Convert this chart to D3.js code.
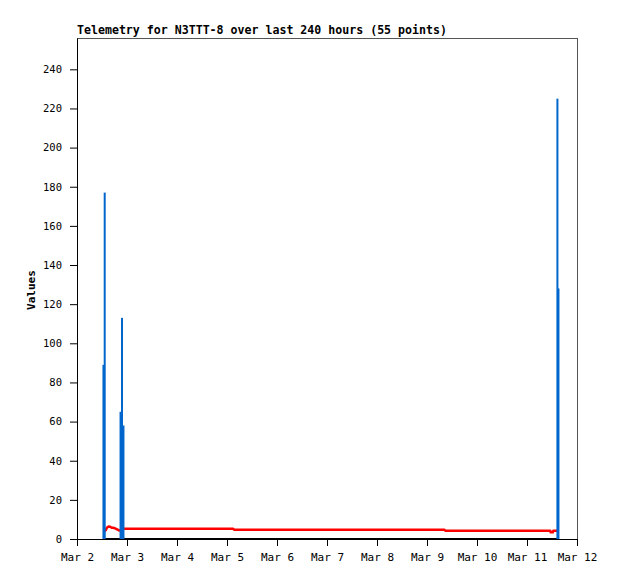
<!DOCTYPE html>
<html>
<head>
<meta charset="utf-8">
<script src="https://cdn.jsdelivr.net/npm/d3@7"></script>
<style>
  html, body { margin: 0; padding: 0; background: #fff; }
  svg { display: block; }
  text { font-family: "DejaVu Sans Mono", "Liberation Mono", monospace; }
</style>
</head>
<body>
<svg id="chart" width="618" height="579"></svg>
<script>
// ---- data (hours after Mar 2 00:00) ----
const startDate = "2024-03-02T00:00:00Z";
const spanHours = 240;
const hours = [
  12.7, 13.3, 13.8, 14.3, 14.8, 15.3, 15.8, 16.3, 16.8, 17.3,
  17.8, 18.3, 18.8, 19.3, 19.8, 20.2, 20.9, 21.6, 22.3, 23.0,
  30, 42, 54, 66, 75.0, 75.4, 88, 100, 112, 124,
  136, 148, 160, 176.4, 176.8, 188, 200, 212, 222, 227.2,
  227.4, 228.4, 228.6,
  229.0, 229.2, 229.4, 229.6, 229.8, 230.0, 230.2, 230.4, 230.6, 230.8, 230.95, 231.1
];
const redValues = [
  3.6, 4.0, 4.5, 5.6, 6.2, 6.4, 6.3, 6.0, 5.7, 5.8,
  5.6, 5.4, 5.1, 4.9, 4.6, 4.4, 4.3, 4.8, 5.2, 5.2,
  5.2, 5.2, 5.2, 5.2, 5.2, 4.7, 4.7, 4.7, 4.7, 4.7,
  4.7, 4.7, 4.7, 4.7, 4.2, 4.2, 4.2, 4.2, 4.2, 4.2,
  3.4, 3.4, 4.2,
  4.2, 4.2, 4.2, 4.2, 4.2, 4.2, 4.2, 4.2, 4.2, 4.2, 4.2, 4.2
];
const blueValues = [
  89, 177, 0, 0, 0, 0, 0, 0, 0, 0,
  0, 0, 0, 0, 0, 0, 65, 113, 58, 0,
  0, 0, 0, 0, 0, 0, 0, 0, 0, 0,
  0, 0, 0, 0, 0, 0, 0, 0, 0, 0,
  0, 0, 0,
  0, 0, 0, 0, 0, 0, 0, 0, 225, 0, 0, 128
];
const blackValues = hours.map(() => 0);
const yTicks = [0, 20, 40, 60, 80, 100, 120, 140, 160, 180, 200, 220, 240];
const titleText = "Telemetry for N3TTT-8 over last 240 hours (55 points)";
const yLabel = "Values";

// ---- layout ----
const svg = d3.select("#chart");
const mLeft = 77, mRight = 577, mTop = 38, mBottom = 539;

const t0 = new Date(startDate);
const toDate = h => new Date(t0.getTime() + h * 3600e3);
const data = hours.map((h, i) => ({ t: toDate(h), red: redValues[i], blue: blueValues[i], black: blackValues[i] }));

const x = d3.scaleUtc().domain([t0, toDate(spanHours)]).range([mLeft, mRight]);
const y = d3.scaleLinear().domain([0, 256]).range([mBottom, mTop]);

// frame
svg.append("line").attr("x1", mLeft).attr("x2", mRight).attr("y1", mTop + 0.5).attr("y2", mTop + 0.5)
  .attr("stroke", "#555").attr("stroke-width", 1);
svg.append("line").attr("x1", mRight + 0.5).attr("x2", mRight + 0.5).attr("y1", mTop).attr("y2", mBottom)
  .attr("stroke", "#555").attr("stroke-width", 1);

// black zero series
svg.append("path").datum(data)
  .attr("fill", "none").attr("stroke", "#000").attr("stroke-width", 2)
  .attr("d", d3.line().x(d => x(d.t)).y(d => y(d.black)));

// red series
svg.append("path").datum(data)
  .attr("fill", "none").attr("stroke", "#ff0000").attr("stroke-width", 2.5)
  .attr("stroke-linejoin", "round")
  .attr("d", d3.line().x(d => x(d.t)).y(d => y(d.red)));

// blue impulses
svg.append("g").selectAll("rect").data(data.filter(d => d.blue > 0)).join("rect")
  .attr("x", d => x(d.t) - 1).attr("width", 2)
  .attr("y", d => y(d.blue)).attr("height", d => y(0) - y(d.blue))
  .attr("fill", "#0066cc");

// axes
const xAxis = d3.axisBottom(x).ticks(d3.utcDay.every(1)).tickFormat(d3.utcFormat("%b %-d"))
  .tickSize(7).tickSizeOuter(0);
const gx = svg.append("g").attr("transform", `translate(0,${mBottom})`).call(xAxis);
gx.select(".domain").attr("stroke", "#000");
gx.selectAll("text").attr("font-size", 11).attr("font-family", "DejaVu Sans Mono").attr("fill", "#000").attr("dy", "1.1em");

const yAxis = d3.axisLeft(y).tickValues(yTicks).tickSize(7).tickSizeOuter(0);
const gy = svg.append("g").attr("transform", `translate(${mLeft},0)`).call(yAxis);
gy.select(".domain").attr("stroke", "#000");
gy.selectAll("text").attr("font-size", 10.5).attr("font-family", "DejaVu Sans Mono").attr("fill", "#000").attr("x", -15);

// title
svg.append("text").attr("x", mLeft).attr("y", 34)
  .attr("font-size", 11.6).attr("font-weight", "bold").attr("fill", "#000")
  .text(titleText);

// y label
svg.append("text").attr("transform", `translate(35,290) rotate(-90)`)
  .attr("text-anchor", "middle").attr("font-size", 11).attr("font-weight", "bold").attr("fill", "#000")
  .text(yLabel);
</script>
</body>
</html>
